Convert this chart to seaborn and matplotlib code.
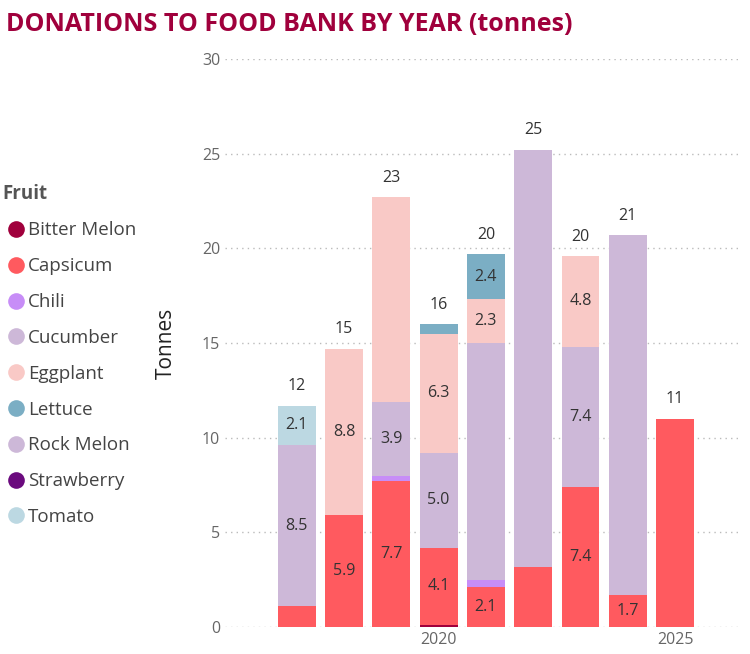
import matplotlib
matplotlib.use("Agg")
import matplotlib.pyplot as plt
import seaborn as sns
import numpy as np
import pandas as pd
from matplotlib.lines import Line2D

years = [2017, 2018, 2019, 2020, 2021, 2022, 2023, 2024, 2025]
fruits = ["Bitter Melon", "Capsicum", "Chili", "Cucumber", "Eggplant", "Lettuce", "Rock Melon", "Strawberry", "Tomato"]
colors = ["#A0003C", "#FF5A5F", "#C78DF7", "#CDB8D8", "#F9C9C6", "#7BAEC4", "#CDB8D8", "#6B0A7E", "#BCD8E2"]
bitter_melon = [0, 0, 0, 0.1, 0, 0, 0, 0, 0]
capsicum =     [1.1, 5.9, 7.7, 4.1, 2.1, 3.2, 7.4, 1.7, 11.0]
chili =        [0, 0, 0.3, 0, 0.4, 0, 0, 0, 0]
cucumber =     [8.5, 0, 0, 5.0, 0, 0, 0, 19.0, 0]
eggplant =     [0, 8.8, 10.8, 6.3, 2.3, 0, 4.8, 0, 0]
lettuce =      [0, 0, 0, 0.5, 2.4, 0, 0, 0, 0]
rock_melon =   [0, 0, 3.9, 0, 12.5, 22.0, 7.4, 0, 0]
strawberry =   [0]*9
tomato =       [2.1, 0, 0, 0, 0, 0, 0, 0, 0]
data = dict(zip(fruits, [bitter_melon, capsicum, chili, cucumber, eggplant, lettuce, rock_melon, strawberry, tomato]))
col = dict(zip(fruits, colors))
stack_order = ["Bitter Melon", "Capsicum", "Chili", "Cucumber", "Rock Melon", "Strawberry", "Eggplant", "Lettuce", "Tomato"]
# segments whose data labels are hidden in the original
hidden = {(2017, "Capsicum"), (2022, "Capsicum"), (2022, "Rock Melon"), (2024, "Cucumber"),
          (2025, "Capsicum"), (2019, "Eggplant"), (2021, "Rock Melon")}

sns.set_style("white")
plt.rcParams["font.family"] = ["Segoe UI", "Open Sans", "DejaVu Sans"]
fig = plt.figure(figsize=(7.5, 6.54), dpi=100)
ax = fig.add_axes([0.30, 0.041, 0.687, 0.869])

bottom = np.zeros(len(years))
for name in stack_order:
    vals = data[name]
    df = pd.DataFrame({"year": years, "v": vals})
    sns.barplot(data=df, x="year", y="v", native_scale=True, color=col[name], width=0.8,
                bottom=bottom, ax=ax, saturation=1, linewidth=0)
    for y, v, b in zip(years, vals, bottom):
        if v >= 1 and (y, name) not in hidden:
            ax.text(y, b + v / 2, f"{v:.1f}", ha="center", va="center", fontsize=11.5, color="#333333")
    bottom = bottom + np.array(vals)
for y, t in zip(years, bottom):
    ax.text(y, t + 0.6, f"{t:.0f}", ha="center", va="bottom", fontsize=11.5, color="#333333")

ax.set_xlim(2015.48, 2026.38)
ax.set_ylim(0, 30)
ax.set_yticks([0, 5, 10, 15, 20, 25, 30])
ax.set_xticks([2020, 2025])
ax.tick_params(axis="both", labelsize=11.5, colors="#666666", length=0)
ax.yaxis.grid(True, linestyle=(0, (1, 3)), color="#BBBBBB", linewidth=1)
ax.set_axisbelow(True)
for s in ax.spines.values():
    s.set_visible(False)
ax.set_xlabel("")
ax.set_ylabel("Tonnes", fontsize=15, color="#222222", labelpad=18)

fig.text(0.008, 0.963, "DONATIONS TO FOOD BANK BY YEAR (tonnes)", fontsize=18,
         fontweight="bold", color="#A0003C", va="center")
handles = [Line2D([0], [0], marker="o", linestyle="", markersize=12, markerfacecolor=c,
                  markeredgewidth=0) for c in colors]
leg = fig.legend(handles, fruits, loc="upper left", bbox_to_anchor=(-0.02, 0.745), frameon=False,
                 title="Fruit", fontsize=13.5, handletextpad=-0.1, labelspacing=0.95,
                 alignment="left", labelcolor="#444444", handlelength=1.5)
leg.get_title().set_fontweight("bold")
leg.get_title().set_fontsize(13.5)
leg.get_title().set_color("#555555")
fig.savefig("out.png", dpi=100)
